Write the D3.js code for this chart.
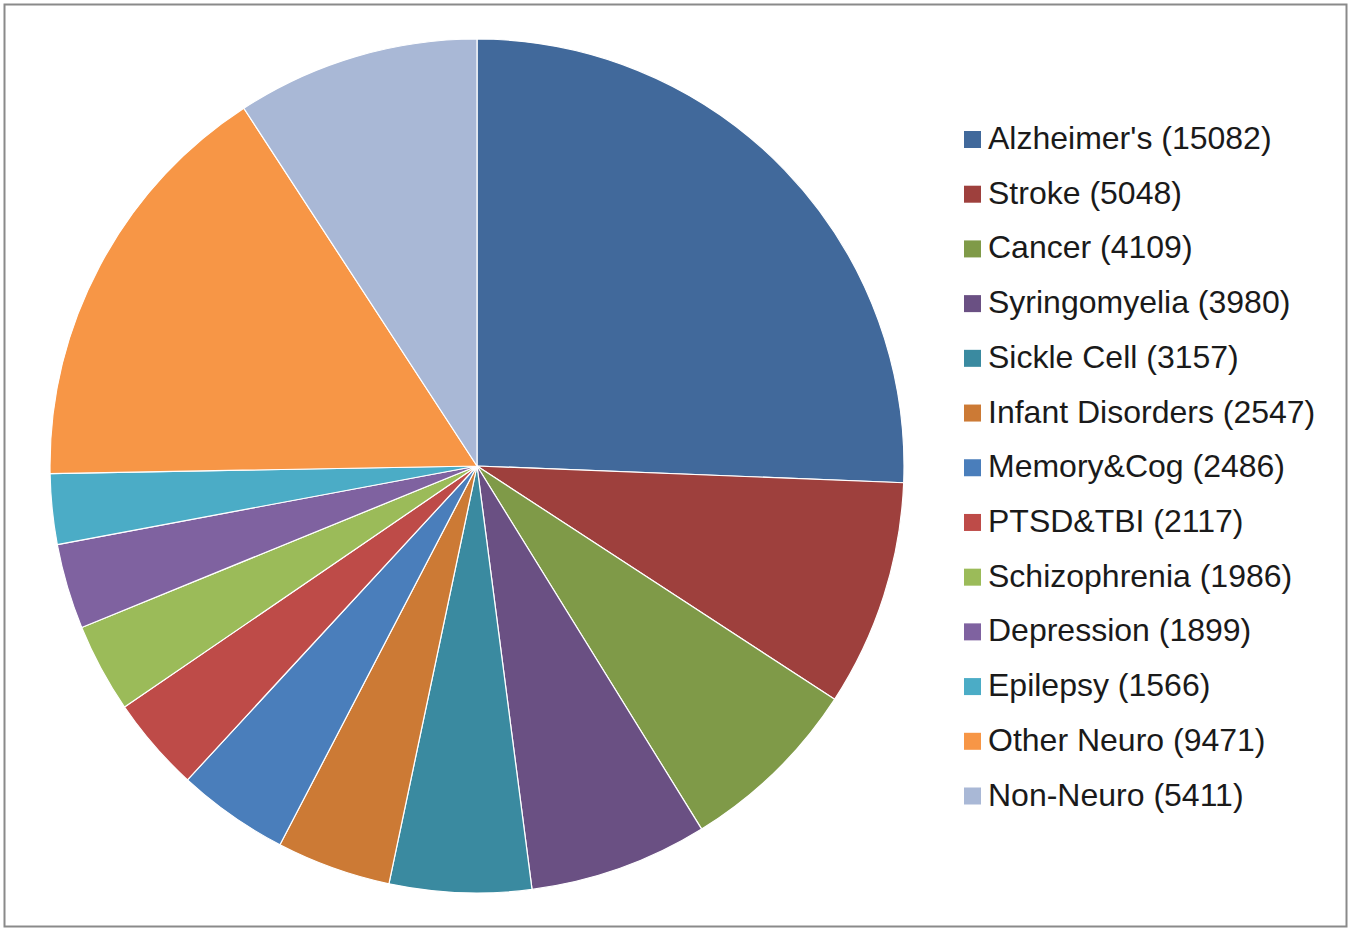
<!DOCTYPE html>
<html>
<head>
<meta charset="utf-8">
<script src="https://cdn.jsdelivr.net/npm/d3@7"></script>
<style>
  html, body { margin: 0; padding: 0; background: #fff; }
  svg { display: block; }
</style>
</head>
<body>
<svg id="chart" width="1355" height="929"></svg>
<script>
// Patient counts by condition
const categories = [
  "Alzheimer's", "Stroke", "Cancer", "Syringomyelia", "Sickle Cell",
  "Infant Disorders", "Memory&Cog", "PTSD&TBI", "Schizophrenia",
  "Depression", "Epilepsy", "Other Neuro", "Non-Neuro"
];
const counts = [15082, 5048, 4109, 3980, 3157, 2547, 2486, 2117, 1986, 1899, 1566, 9471, 5411];
const colors = [
  "#41699b", "#9e403d", "#7f9a48", "#6a5083", "#3a8aa0",
  "#cc7a35", "#4a7ebb", "#be4b48", "#9bbb59", "#7f62a0",
  "#4bacc6", "#f79646", "#a9b8d6"
];

const svg = d3.select("#chart");

// outer frame
svg.append("rect")
  .attr("x", 4.5).attr("y", 4.5)
  .attr("width", 1342).attr("height", 922)
  .attr("fill", "#fff")
  .attr("stroke", "#8a8a8a")
  .attr("stroke-width", 2);

const data = categories.map((c, i) => ({ name: c, value: counts[i] }));
const color = d3.scaleOrdinal().domain(categories).range(colors);

const cx = 477, cy = 466, r = 427;
const pie = d3.pie().sort(null).value(d => d.value);
const arc = d3.arc().innerRadius(0).outerRadius(r);

svg.append("g")
  .attr("transform", `translate(${cx},${cy})`)
  .selectAll("path")
  .data(pie(data))
  .join("path")
  .attr("d", arc)
  .attr("fill", d => color(d.data.name))
  .attr("stroke", "#ffffff")
  .attr("stroke-width", 1.2)
  .attr("stroke-linejoin", "round");

// legend
const rowY = d3.scalePoint().domain(categories).range([149, 805.5]);
const legend = svg.append("g");
const rows = legend.selectAll("g")
  .data(data)
  .join("g")
  .attr("transform", d => `translate(0,${rowY(d.name)})`);

rows.append("rect")
  .attr("x", 964).attr("y", -18)
  .attr("width", 17).attr("height", 17)
  .attr("fill", d => color(d.name));

rows.append("text")
  .attr("x", 988).attr("y", 0)
  .attr("font-family", "'Liberation Sans', Arial, sans-serif")
  .attr("font-size", 32)
  .attr("fill", "#1a1a1a")
  .text(d => `${d.name} (${d.value})`);
</script>
</body>
</html>
